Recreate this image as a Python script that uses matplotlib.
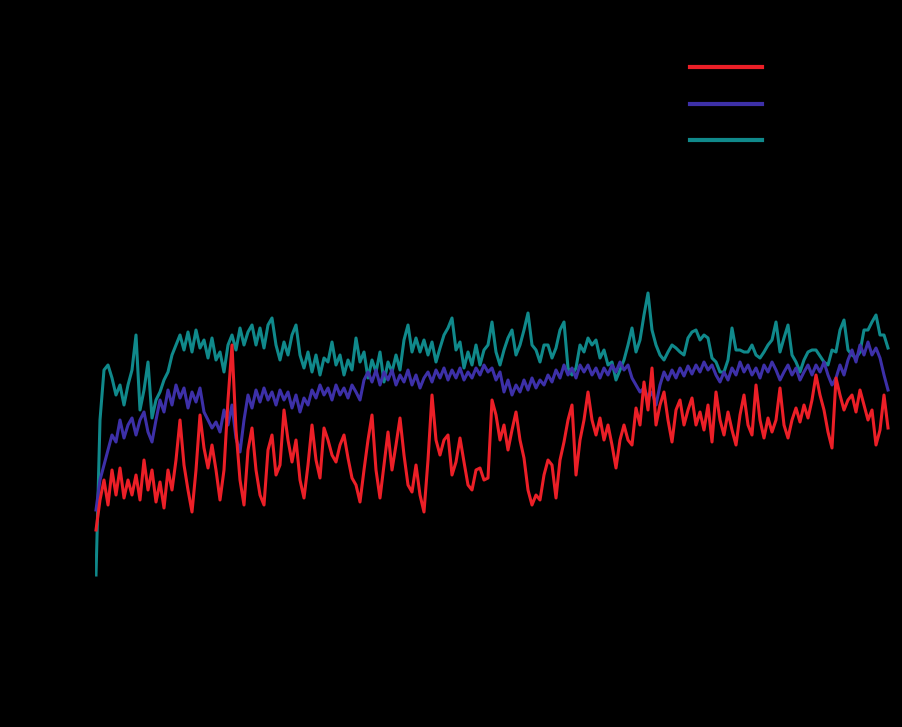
"""
plot.py
Three noisy time traces on a black canvas (axes, ticks and text are black too).
Values read off the reference by eye, sampled every 0.5 time units.
"""
import numpy as np
import matplotlib
matplotlib.use("Agg")
import matplotlib.pyplot as plt

dt = 0.5  # sampling step of the traces

red_series = [
    1.70, 2.00, 2.20, 1.95, 2.30, 2.05, 2.32, 2.02, 2.20, 2.05,
    2.25, 2.00, 2.40, 2.10, 2.30, 1.98, 2.18, 1.92, 2.30, 2.10,
    2.40, 2.80, 2.35, 2.10, 1.88, 2.30, 2.85, 2.52, 2.32, 2.55,
    2.30, 2.00, 2.30, 3.00, 3.55, 2.70, 2.20, 1.95, 2.50, 2.72,
    2.30, 2.05, 1.95, 2.50, 2.65, 2.25, 2.35, 2.90, 2.60, 2.38,
    2.60, 2.20, 2.02, 2.35, 2.75, 2.40, 2.22, 2.72, 2.60, 2.45,
    2.38, 2.55, 2.65, 2.42, 2.22, 2.15, 1.98, 2.30, 2.60, 2.85,
    2.30, 2.02, 2.35, 2.68, 2.30, 2.55, 2.82, 2.45, 2.15, 2.08,
    2.35, 2.05, 1.88, 2.40, 3.05, 2.60, 2.45, 2.60, 2.65, 2.25,
    2.38, 2.62, 2.38, 2.15, 2.10, 2.30, 2.32, 2.20, 2.22, 3.00,
    2.85, 2.60, 2.75, 2.50, 2.70, 2.88, 2.60, 2.42, 2.10, 1.95,
    2.05, 2.00, 2.25, 2.40, 2.35, 2.02, 2.40, 2.58, 2.80, 2.95,
    2.25, 2.60, 2.80, 3.08, 2.80, 2.65, 2.82, 2.60, 2.75, 2.55,
    2.32, 2.60, 2.75, 2.60, 2.55, 2.92, 2.75, 3.18, 2.90, 3.32,
    2.75, 2.95, 3.08, 2.80, 2.58, 2.90, 3.00, 2.75, 2.90, 3.02,
    2.75, 2.88, 2.70, 2.95, 2.58, 3.08, 2.80, 2.65, 2.88, 2.70,
    2.55, 2.85, 3.05, 2.75, 2.65, 3.15, 2.80, 2.62, 2.82, 2.68,
    2.80, 3.12, 2.75, 2.62, 2.80, 2.92, 2.78, 2.95, 2.82, 3.00,
    3.25, 3.05, 2.90, 2.68, 2.52, 3.22, 3.05, 2.90, 3.00, 3.05,
    2.88, 3.10, 2.95, 2.80, 2.90, 2.55, 2.70, 3.05, 2.72,
]

blue_series = [
    1.90, 2.20, 2.35, 2.50, 2.65, 2.58, 2.80, 2.62, 2.75, 2.82,
    2.65, 2.80, 2.88, 2.68, 2.58, 2.80, 3.00, 2.88, 3.10, 2.95,
    3.15, 3.02, 3.12, 2.92, 3.08, 2.98, 3.12, 2.88, 2.80, 2.72,
    2.78, 2.68, 2.90, 2.75, 2.95, 2.62, 2.48, 2.80, 3.05, 2.92,
    3.10, 2.98, 3.12, 3.00, 3.08, 2.95, 3.10, 3.00, 3.08, 2.92,
    3.05, 2.88, 3.02, 2.95, 3.10, 3.02, 3.15, 3.05, 3.12, 3.00,
    3.15, 3.05, 3.12, 3.02, 3.15, 3.08, 3.00, 3.20, 3.28, 3.18,
    3.30, 3.15, 3.28, 3.20, 3.30, 3.15, 3.25, 3.18, 3.30, 3.15,
    3.25, 3.12, 3.22, 3.28, 3.18, 3.30, 3.22, 3.32, 3.20, 3.30,
    3.22, 3.32, 3.20, 3.28, 3.22, 3.32, 3.25, 3.35, 3.28, 3.32,
    3.20, 3.28, 3.08, 3.20, 3.05, 3.15, 3.08, 3.20, 3.10, 3.22,
    3.12, 3.20, 3.15, 3.25, 3.18, 3.30, 3.22, 3.35, 3.25, 3.32,
    3.22, 3.35, 3.28, 3.35, 3.25, 3.32, 3.22, 3.32, 3.25, 3.35,
    3.28, 3.38, 3.30, 3.35, 3.22, 3.15, 3.08, 3.12, 3.02, 3.08,
    2.95, 3.15, 3.28, 3.20, 3.30, 3.22, 3.32, 3.24, 3.34, 3.26,
    3.35, 3.28, 3.38, 3.30, 3.35, 3.25, 3.18, 3.28, 3.20, 3.32,
    3.25, 3.38, 3.28, 3.35, 3.25, 3.32, 3.22, 3.35, 3.28, 3.38,
    3.30, 3.20, 3.28, 3.35, 3.25, 3.32, 3.20, 3.28, 3.35, 3.25,
    3.35, 3.28, 3.38, 3.25, 3.15, 3.22, 3.35, 3.25, 3.40, 3.50,
    3.38, 3.55, 3.45, 3.58, 3.45, 3.52, 3.42, 3.25, 3.10,
]

teal_series = [
    1.25, 2.80, 3.30, 3.35, 3.22, 3.05, 3.15, 2.95, 3.15, 3.30,
    3.65, 2.90, 3.10, 3.38, 2.82, 3.00, 3.08, 3.20, 3.28, 3.45,
    3.55, 3.65, 3.50, 3.68, 3.48, 3.70, 3.52, 3.60, 3.42, 3.62,
    3.40, 3.48, 3.28, 3.55, 3.65, 3.50, 3.72, 3.55, 3.68, 3.75,
    3.55, 3.72, 3.52, 3.75, 3.82, 3.55, 3.40, 3.58, 3.45, 3.65,
    3.75, 3.45, 3.32, 3.48, 3.28, 3.45, 3.25, 3.42, 3.38, 3.58,
    3.35, 3.45, 3.25, 3.40, 3.30, 3.62, 3.38, 3.48, 3.22, 3.40,
    3.28, 3.48, 3.18, 3.38, 3.28, 3.45, 3.30, 3.60, 3.75, 3.48,
    3.62, 3.48, 3.60, 3.45, 3.58, 3.38, 3.52, 3.65, 3.72, 3.82,
    3.50, 3.58, 3.32, 3.48, 3.35, 3.55, 3.35, 3.50, 3.55, 3.78,
    3.48, 3.35, 3.50, 3.62, 3.70, 3.45, 3.55, 3.70, 3.87, 3.55,
    3.50, 3.38, 3.55, 3.55, 3.42, 3.52, 3.70, 3.78, 3.32, 3.25,
    3.32, 3.55, 3.48, 3.62, 3.55, 3.60, 3.42, 3.50, 3.35, 3.38,
    3.20, 3.30, 3.40, 3.55, 3.72, 3.48, 3.60, 3.85, 4.07, 3.70,
    3.55, 3.45, 3.40, 3.48, 3.55, 3.52, 3.48, 3.45, 3.62, 3.68,
    3.70, 3.60, 3.65, 3.62, 3.42, 3.38, 3.28, 3.28, 3.40, 3.72,
    3.50, 3.50, 3.48, 3.48, 3.55, 3.45, 3.42, 3.48, 3.55, 3.60,
    3.78, 3.48, 3.62, 3.75, 3.45, 3.38, 3.28, 3.40, 3.48, 3.50,
    3.50, 3.44, 3.38, 3.35, 3.50, 3.48, 3.70, 3.80, 3.50, 3.45,
    3.42, 3.48, 3.70, 3.70, 3.78, 3.85, 3.65, 3.65, 3.52,
]

labels = ["run 1", "run 2", "run 3"]
colors = ["#ec1f27", "#3d30a8", "#10898b"]

t = np.arange(len(teal_series)) * dt

fig = plt.figure(figsize=(9.02, 7.27), dpi=100, facecolor="black")
ax = fig.add_axes([94 / 902, 67 / 727, 796 / 902, 630 / 727], facecolor="black")

# teal underneath, red on top
l3, = ax.plot(t, teal_series, color=colors[2], lw=2.2, zorder=2)
l2, = ax.plot(t, blue_series, color=colors[1], lw=2.2, zorder=3)
l1, = ax.plot(t, red_series, color=colors[0], lw=2.2, zorder=4)

ax.set_xlim(-0.25, t[-1] + 0.25)
ax.set_ylim(0.4, 6.7)
ax.set_yticks(np.arange(0.4, 6.75, 0.9))
ax.tick_params(direction="in", length=10.5, width=1.2, colors="black",
               labelcolor="black", top=True, right=True)
for s in ax.spines.values():
    s.set_color("black")

leg = ax.legend([l1, l2, l3], labels, loc="upper left",
                bbox_to_anchor=(690 / 902, 1 - 59 / 727),
                bbox_transform=fig.transFigure, frameon=False,
                fontsize=14, handlelength=3.7, labelspacing=0.90,
                borderpad=0, borderaxespad=0, handletextpad=0.6)
for txt in leg.get_texts():
    txt.set_color("black")
for ln in leg.get_lines():
    ln.set_linewidth(3)

fig.savefig("out.png", dpi=100, facecolor="black")
